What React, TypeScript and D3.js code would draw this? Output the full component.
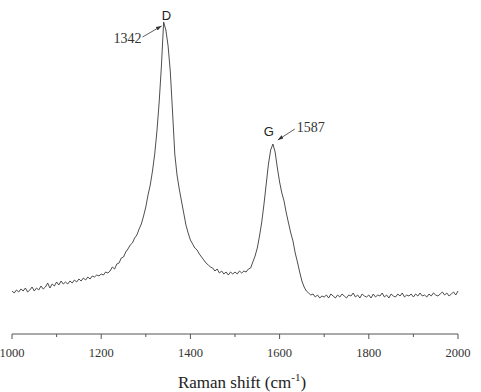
import React from "react";
import * as d3 from "d3";

const shiftStart = 1000;
const shiftStep = 5;
const intensity: number[] = [
  43, 41, 44, 42, 45, 43, 46, 42, 44, 47, 43, 46, 44, 48, 45, 47, 51, 46, 50, 48,
  52, 49, 53, 50, 52, 50, 53, 51, 54, 52, 55, 53, 56, 54, 57, 55, 58, 57, 59, 58,
  60, 59, 62, 61, 63, 67, 65, 70, 71, 76, 77, 82, 85, 89, 91, 96, 99, 105, 110, 118,
  127, 139, 149, 163, 180, 203, 232, 268, 312, 304, 288, 262, 222, 180, 159, 145, 133, 121, 109, 101,
  94, 90, 86, 84, 80, 77, 74, 71, 69, 67, 66, 63, 65, 61, 63, 60, 62, 59, 62, 60,
  62, 60, 63, 61, 63, 62, 65, 66, 72, 78, 86, 98, 112, 130, 150, 170, 184, 190, 182, 166,
  152, 141, 133, 121, 111, 101, 93, 81, 72, 62, 53, 47, 43, 41, 39, 40, 37, 39, 36, 38,
  37, 39, 36, 40, 38, 36, 39, 37, 40, 38, 36, 39, 38, 41, 37, 39, 36, 40, 38, 37,
  39, 36, 40, 37, 39, 38, 41, 37, 39, 36, 40, 38, 37, 40, 38, 41, 37, 39, 38, 40,
  37, 40, 38, 41, 38, 39, 37, 40, 38, 41, 39, 38, 40, 42, 39, 41, 38, 40, 42, 39, 43,
];
const majorTicks = [1000, 1200, 1400, 1600, 1800, 2000];
const minorTicks = [1100, 1300, 1500, 1700, 1900];
const peakNames = ["D", "G"];
const peakShifts = [1342, 1587];
const peakValues = [312, 190];

const W = 481;
const H = 392;
const axisY = 334;

export default function App() {
  const x = d3.scaleLinear().domain([1000, 2000]).range([12, 458]);
  const y = d3.scaleLinear().domain([0, 320]).range([axisY, 14]);
  const pts: [number, number][] = intensity.map((v, i) => [shiftStart + i * shiftStep, v]);
  const line = d3
    .line<[number, number]>()
    .x((d) => x(d[0]))
    .y((d) => y(d[1]));

  const serif = "'Liberation Serif', 'Times New Roman', serif";
  const sans = "'Liberation Sans', Arial, sans-serif";

  const dX = x(peakShifts[0]);
  const dY = y(peakValues[0]);
  const gX = x(peakShifts[1]);
  const gY = y(peakValues[1]);

  return (
    <svg
      width={W}
      height={H}
      style={{ position: "absolute", left: 0, top: 0, background: "#fff" }}
    >
      <defs>
        <marker id="arr" viewBox="0 0 10 10" refX="10" refY="5" markerWidth="7" markerHeight="7" orient="auto">
          <path d="M0,1.5 L10,5 L0,8.5 Z" fill="#333" />
        </marker>
      </defs>
      <path d={line(pts) || ""} fill="none" stroke="#3a3a3a" strokeWidth={0.9} />

      {/* axis */}
      <line x1={x(1000)} x2={x(2000)} y1={axisY} y2={axisY} stroke="#555" strokeWidth={1} />
      {majorTicks.map((t) => (
        <g key={t}>
          <line x1={x(t)} x2={x(t)} y1={axisY} y2={axisY + 5} stroke="#555" />
          <text x={x(t)} y={357} textAnchor="middle" fontFamily={serif} fontSize={12.5} fill="#333">
            {t}
          </text>
        </g>
      ))}
      {minorTicks.map((t) => (
        <line key={t} x1={x(t)} x2={x(t)} y1={axisY} y2={axisY + 3} stroke="#555" />
      ))}
      <text x={242} y={388} textAnchor="middle" fontFamily={serif} fontSize={17} fill="#222">
        Raman shift (cm
        <tspan dy={-7} fontSize={11}>-1</tspan>
        <tspan dy={7}>)</tspan>
      </text>

      {/* D annotation */}
      <text x={dX + 2} y={dY - 2} textAnchor="middle" fontFamily={sans} fontSize={13} fill="#222">
        {peakNames[0]}
      </text>
      <text x={dX - 23} y={dY + 21} textAnchor="end" fontFamily={serif} fontSize={14} fill="#333">
        {peakShifts[0]}
      </text>
      <line x1={dX - 22} y1={dY + 15} x2={dX - 3} y2={dY + 4} stroke="#333" strokeWidth={0.8} markerEnd="url(#arr)" />

      {/* G annotation */}
      <text x={gX - 5} y={gY - 8} textAnchor="middle" fontFamily={sans} fontSize={13} fill="#222">
        {peakNames[1]}
      </text>
      <text x={gX + 23} y={gY - 12} textAnchor="start" fontFamily={serif} fontSize={14} fill="#333">
        {peakShifts[1]}
      </text>
      <line x1={gX + 21} y1={gY - 15} x2={gX + 4} y2={gY - 4} stroke="#333" strokeWidth={0.8} markerEnd="url(#arr)" />
    </svg>
  );
}
